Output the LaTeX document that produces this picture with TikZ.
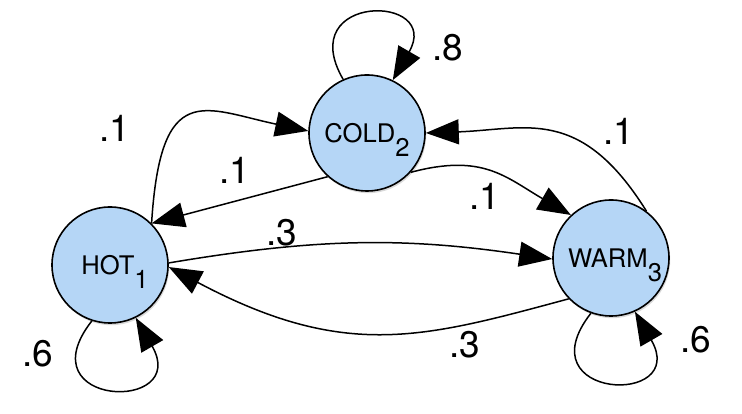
\documentclass[tikz,border=0pt]{standalone}
\usepackage{fontspec}
\setmainfont{TeX Gyre Heros}
\usetikzlibrary{arrows.meta,shadows}
\definecolor{stateblue}{RGB}{181,214,246}
\newcommand{\lowsub}[1]{\raisebox{-14pt}[0pt][0pt]{#1}}
\tikzset{
  stnode/.style={circle, draw=black, line width=1.6pt, fill=stateblue,
    minimum size=116pt, inner sep=0pt, font=\fontsize{25.6}{30}\selectfont,
    drop shadow={shadow xshift=1.2pt, shadow yshift=-2.2pt, opacity=0.3}},
  trans/.style={line width=1.5pt, -{Triangle[length=33pt,width=25pt]}},
  plabel/.style={font=\fontsize{37}{44}\selectfont, inner sep=0pt},
}
\begin{document}
\begin{tikzpicture}[x=1pt,y=1pt]
\useasboundingbox (0,0) rectangle (742,414);
\node[stnode] (cold) at (367,281) {COLD\lowsub{2}};
\node[stnode] (hot) at (110,149) {\kern10pt HOT\lowsub{1}};
\node[stnode] (warm) at (611,156) {\kern8pt WARM\lowsub{3}};

% self loops
\draw[trans] (cold.114) .. controls +(120:100pt) and +(60:100pt) .. (cold.64);
\draw[trans] (hot.252) .. controls +(232:110pt) and +(300:110pt) .. (hot.296);
\draw[trans] (warm.250) .. controls +(232:110pt) and +(300:110pt) .. (warm.294);

% transitions
\draw[trans] (hot.45) .. controls +(9pt,145pt) and +(-104pt,22pt) .. (cold.178);
\draw[trans] (cold.228) -- (hot.45);
\draw[trans] (hot.2) to[bend left=9] (warm.181);
\draw[trans] (warm.224) .. controls +(-145pt,-39pt) and +(177pt,-94pt) .. (hot.-2);
\draw[trans] (cold.-42) .. controls +(15:75pt) and +(150:75pt) .. (warm.133);
\draw[trans] (warm.53) .. controls +(122:125pt) and +(2:100pt) .. (cold.0);

% labels
\node[plabel] (p88) at (448,366) {.8};
\node[plabel] (phc) at (115,286) {.1};
\node[plabel] (pch) at (235,244) {.1};
\node[plabel] (phw) at (282,181) {.3};
\node[plabel] (pwh) at (465,69) {.3};
\node[plabel] (pcw) at (485,218) {.1};
\node[plabel] (pwc) at (619,283) {.1};
\node[plabel] (phh) at (37.5,60.5) {.6};
\node[plabel] (pww) at (696,74) {.6};
\end{tikzpicture}
\end{document}
